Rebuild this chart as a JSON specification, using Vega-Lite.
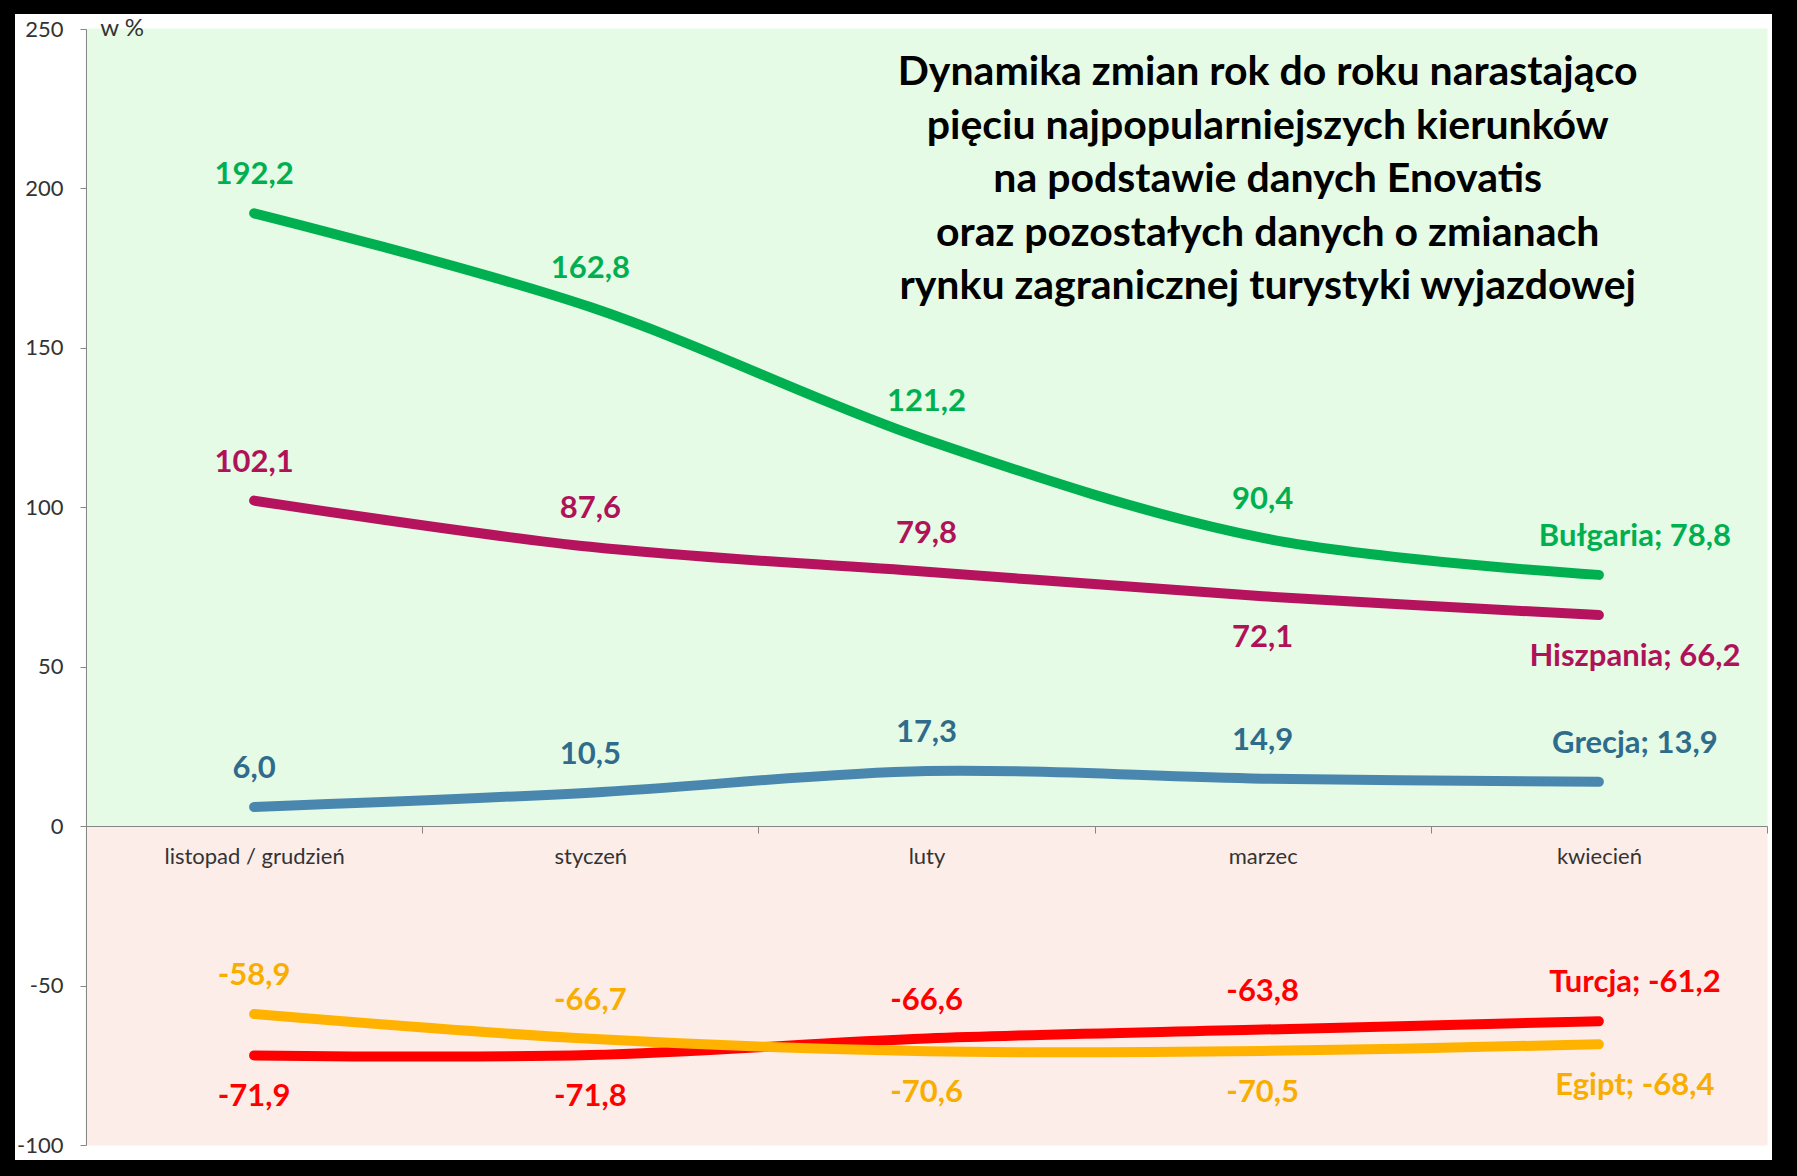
{
  "$schema": "https://vega.github.io/schema/vega-lite/v6.json",
  "width": 1757,
  "height": 1146,
  "autosize": {"type": "none"},
  "padding": {"left": 15, "top": 14, "right": 25, "bottom": 16},
  "background": "#000000",
  "view": {"fill": "#FFFFFF", "stroke": null},
  "config": {"font": "Lato"},
  "data": {
    "values": [
      {"series": "Bułgaria", "month": "listopad / grudzień", "v": 192.2},
      {"series": "Bułgaria", "month": "styczeń", "v": 162.8},
      {"series": "Bułgaria", "month": "luty", "v": 121.2},
      {"series": "Bułgaria", "month": "marzec", "v": 90.4},
      {"series": "Bułgaria", "month": "kwiecień", "v": 78.8},
      {"series": "Hiszpania", "month": "listopad / grudzień", "v": 102.1},
      {"series": "Hiszpania", "month": "styczeń", "v": 87.6},
      {"series": "Hiszpania", "month": "luty", "v": 79.8},
      {"series": "Hiszpania", "month": "marzec", "v": 72.1},
      {"series": "Hiszpania", "month": "kwiecień", "v": 66.2},
      {"series": "Grecja", "month": "listopad / grudzień", "v": 6.0},
      {"series": "Grecja", "month": "styczeń", "v": 10.5},
      {"series": "Grecja", "month": "luty", "v": 17.3},
      {"series": "Grecja", "month": "marzec", "v": 14.9},
      {"series": "Grecja", "month": "kwiecień", "v": 13.9},
      {"series": "Turcja", "month": "listopad / grudzień", "v": -71.9},
      {"series": "Turcja", "month": "styczeń", "v": -71.8},
      {"series": "Turcja", "month": "luty", "v": -66.6},
      {"series": "Turcja", "month": "marzec", "v": -63.8},
      {"series": "Turcja", "month": "kwiecień", "v": -61.2},
      {"series": "Egipt", "month": "listopad / grudzień", "v": -58.9},
      {"series": "Egipt", "month": "styczeń", "v": -66.7},
      {"series": "Egipt", "month": "luty", "v": -70.6},
      {"series": "Egipt", "month": "marzec", "v": -70.5},
      {"series": "Egipt", "month": "kwiecień", "v": -68.4}
    ]
  },
  "transform": [
    {"calculate": "replace(replace(format(datum.v, '.1f'), '.', ','), '\u2212', '-')", "as": "lab"},
    {"calculate": "datum.series + '; ' + datum.lab", "as": "lab2"},
    {"calculate": "(datum.series=='Hiszpania' && (datum.month=='marzec' || datum.month=='kwiecień')) || (datum.series=='Turcja' && (datum.month=='listopad / grudzień' || datum.month=='styczeń')) || (datum.series=='Egipt' && (datum.month=='luty' || datum.month=='marzec' || datum.month=='kwiecień'))", "as": "below"}
  ],
  "encoding": {
    "x": {
      "field": "month",
      "type": "nominal",
      "scale": {
        "type": "band",
        "domain": ["listopad / grudzień", "styczeń", "luty", "marzec", "kwiecień"],
        "range": [71, 1752],
        "paddingInner": 0,
        "paddingOuter": 0
      },
      "axis": {
        "orient": "bottom",
        "offset": -334,
        "title": null,
        "tickBand": "extent",
        "domainColor": "#868686",
        "tickColor": "#868686",
        "tickSize": 7,
        "labelPadding": 13,
        "labelFontSize": 22,
        "labelColor": "#333333",
        "labelAngle": 0,
        "labelLimit": 0,
        "grid": false,
        "zindex": 1
      }
    },
    "y": {
      "field": "v",
      "type": "quantitative",
      "scale": {"domain": [-100, 250], "range": [1131, 15], "nice": false, "zero": false},
      "axis": {
        "values": [-100, -50, 0, 50, 100, 150, 200, 250],
        "labelExpr": "replace(datum.label, '\u2212', '-')",
        "offset": -71,
        "title": null,
        "grid": false,
        "domainColor": "#868686",
        "tickColor": "#868686",
        "tickSize": 6,
        "labelPadding": 17,
        "labelFontSize": 22,
        "labelColor": "#333333",
        "labelFlush": false,
        "labelOverlap": false,
        "zindex": 1
      }
    }
  },
  "resolve": {"scale": {"color": "independent"}},
  "layer": [
    {
      "transform": [{"filter": "datum.series == 'Bułgaria'"}],
      "mark": {"type": "rect", "color": "#E6FBE5", "stroke": "#E6FBE5", "strokeWidth": 1},
      "encoding": {"y": {"datum": 0}, "y2": {"datum": 250}}
    },
    {
      "transform": [{"filter": "datum.series == 'Bułgaria'"}],
      "mark": {"type": "rect", "color": "#FDEDE9", "stroke": "#FDEDE9", "strokeWidth": 1},
      "encoding": {"y": {"datum": -100}, "y2": {"datum": 0}}
    },
    {
      "mark": {"type": "line", "strokeWidth": 10, "strokeCap": "round", "strokeJoin": "round", "interpolate": "catmull-rom"},
      "encoding": {
        "color": {
          "field": "series",
          "type": "nominal",
          "scale": {"domain": ["Bułgaria", "Hiszpania", "Grecja", "Turcja", "Egipt"], "range": ["#00B050", "#B5135D", "#4A87AE", "#FF0000", "#FFB300"]},
          "legend": null
        }
      }
    },
    {
      "transform": [{"filter": "!datum.below && datum.month != 'kwiecień'"}],
      "mark": {"type": "text", "fontSize": 31, "fontWeight": "bold", "align": "center", "baseline": "middle", "dy": -38},
      "encoding": {
        "text": {"field": "lab"},
        "color": {
          "field": "series",
          "type": "nominal",
          "scale": {"domain": ["Bułgaria", "Hiszpania", "Grecja", "Turcja", "Egipt"], "range": ["#00B050", "#B0125A", "#2F6C8C", "#FF0000", "#F8AE00"]},
          "legend": null
        }
      }
    },
    {
      "transform": [{"filter": "datum.below && datum.month != 'kwiecień'"}],
      "mark": {"type": "text", "fontSize": 31, "fontWeight": "bold", "align": "center", "baseline": "middle", "dy": 42},
      "encoding": {
        "text": {"field": "lab"},
        "color": {
          "field": "series",
          "type": "nominal",
          "scale": {"domain": ["Bułgaria", "Hiszpania", "Grecja", "Turcja", "Egipt"], "range": ["#00B050", "#B0125A", "#2F6C8C", "#FF0000", "#F8AE00"]},
          "legend": null
        }
      }
    },
    {
      "transform": [{"filter": "!datum.below && datum.month == 'kwiecień'"}],
      "mark": {"type": "text", "fontSize": 31, "fontWeight": "bold", "align": "center", "baseline": "middle", "dy": -38, "dx": 36},
      "encoding": {
        "text": {"field": "lab2"},
        "color": {
          "field": "series",
          "type": "nominal",
          "scale": {"domain": ["Bułgaria", "Hiszpania", "Grecja", "Turcja", "Egipt"], "range": ["#00B050", "#B0125A", "#2F6C8C", "#FF0000", "#F8AE00"]},
          "legend": null
        }
      }
    },
    {
      "transform": [{"filter": "datum.below && datum.month == 'kwiecień'"}],
      "mark": {"type": "text", "fontSize": 31, "fontWeight": "bold", "align": "center", "baseline": "middle", "dy": 42, "dx": 36},
      "encoding": {
        "text": {"field": "lab2"},
        "color": {
          "field": "series",
          "type": "nominal",
          "scale": {"domain": ["Bułgaria", "Hiszpania", "Grecja", "Turcja", "Egipt"], "range": ["#00B050", "#B0125A", "#2F6C8C", "#FF0000", "#F8AE00"]},
          "legend": null
        }
      }
    },
    {
      "transform": [{"filter": "datum.series == 'Bułgaria' && datum.month == 'marzec'"}],
      "mark": {
        "type": "text",
        "text": ["Dynamika zmian rok do roku narastająco", "pięciu najpopularniejszych kierunków", "na podstawie danych Enovatis", "oraz pozostałych danych o zmianach", "rynku zagranicznej turystyki wyjazdowej"],
        "fontSize": 41,
        "fontWeight": "bold",
        "lineHeight": 53.5,
        "align": "center",
        "baseline": "middle",
        "color": "#000000",
        "dx": 5
      },
      "encoding": {"y": {"datum": 236.2}}
    },
    {
      "transform": [{"filter": "datum.series == 'Bułgaria' && datum.month == 'listopad / grudzień'"}],
      "mark": {"type": "text", "text": "w %", "fontSize": 24, "color": "#333333", "align": "center", "baseline": "middle", "dx": -132},
      "encoding": {"y": {"datum": 250}}
    }
  ]
}
